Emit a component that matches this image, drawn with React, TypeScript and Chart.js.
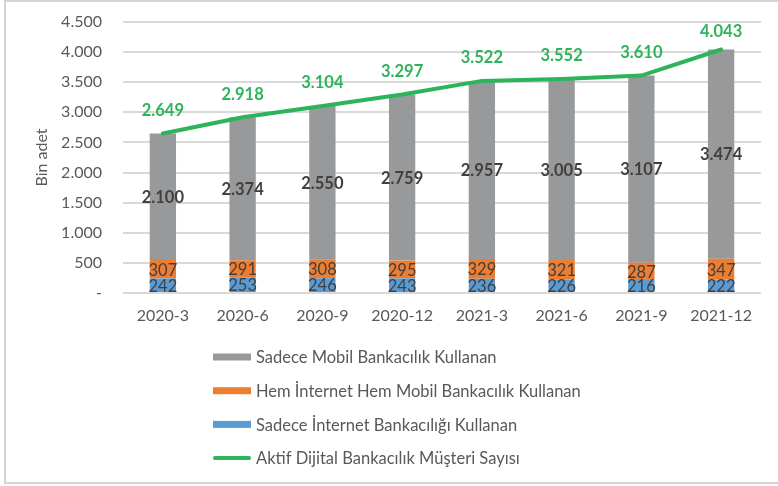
import React, { useEffect, useRef } from "react";
import { Chart, registerables } from "chart.js";

Chart.register(...registerables);

const categories = ["2020-3", "2020-6", "2020-9", "2020-12", "2021-3", "2021-6", "2021-9", "2021-12"];
const sadeceMobil = [2100, 2374, 2550, 2759, 2957, 3005, 3107, 3474];
const hemInternetHemMobil = [307, 291, 308, 295, 329, 321, 287, 347];
const sadeceInternet = [242, 253, 246, 243, 236, 226, 216, 222];
const aktifDijital = [2649, 2918, 3104, 3297, 3522, 3552, 3610, 4043];

const yMin = 0;
const yMax = 4500;
const yStep = 500;

const seriesNames = [
  "Sadece İnternet Bankacılığı Kullanan",
  "Hem İnternet Hem Mobil Bankacılık Kullanan",
  "Sadece Mobil Bankacılık Kullanan",
  "Aktif Dijital Bankacılık Müşteri Sayısı",
];

const COLORS = {
  blue: "#5b9bd5",
  orange: "#ed7d31",
  gray: "#97999b",
  green: "#2db45a",
  text: "#595959",
  label: "#404040",
  grid: "#d9d9d9",
};

const FONT = "Lato";

function fmt(n: number): string {
  if (n === 0) return "-";
  return String(n).replace(/\B(?=(\d{3})+(?!\d))/g, ".");
}

const dataLabelPlugin = {
  id: "dataLabels",
  afterDatasetsDraw(chart: any) {
    const ctx = chart.ctx;
    const styles = chart.options.plugins.dataLabels.styles;
    ctx.save();
    ctx.textAlign = "center";
    ctx.textBaseline = "middle";
    chart.data.datasets.forEach((ds: any, i: number) => {
      const meta = chart.getDatasetMeta(i);
      const st = styles[i];
      if (!st || meta.hidden) return;
      ctx.font = `${st.weight} ${st.size}px ${FONT}`;
      ctx.fillStyle = st.color;
      meta.data.forEach((el: any, j: number) => {
        const v = ds.data[j];
        let x: number, y: number;
        if (meta.type === "bar") {
          const p = el.getProps(["x", "y", "base"], true);
          x = p.x;
          y = (p.y + p.base) / 2;
        } else {
          x = el.x;
          y = Math.max(el.y - st.offset, chart.chartArea.top + 9);
        }
        ctx.fillText(fmt(v), x, y + 1);
      });
    });
    ctx.restore();
  },
};

const legendPlugin = {
  id: "vertLegend",
  afterDraw(chart: any) {
    const o = chart.options.plugins.vertLegend;
    const ctx = chart.ctx;
    ctx.save();
    ctx.textAlign = "left";
    ctx.textBaseline = "middle";
    ctx.font = `${o.size}px ${FONT}`;
    o.order.forEach((idx: number, k: number) => {
      const ds = chart.data.datasets[idx];
      const y = chart.chartArea.bottom + o.top + k * o.spacing;
      const x = o.left;
      if (ds.type === "line") {
        ctx.strokeStyle = ds.borderColor;
        ctx.lineWidth = 4;
        ctx.lineCap = "round";
        ctx.beginPath();
        ctx.moveTo(x + 2, y);
        ctx.lineTo(x + o.boxWidth - 2, y);
        ctx.stroke();
      } else {
        ctx.fillStyle = ds.backgroundColor;
        ctx.fillRect(x, y - o.boxHeight / 2, o.boxWidth, o.boxHeight);
      }
      ctx.fillStyle = COLORS.text;
      ctx.fillText(ds.label, x + o.boxWidth + 5, y + 1);
    });
    ctx.restore();
  },
};

export default function App() {
  const ref = useRef<HTMLCanvasElement | null>(null);

  useEffect(() => {
    if (!ref.current) return;
    const chart = new Chart(ref.current, {
      type: "bar",
      data: {
        labels: categories,
        datasets: [
          {
            type: "bar",
            label: seriesNames[0],
            data: sadeceInternet,
            backgroundColor: COLORS.blue,
            stack: "bars",
            order: 1,
            barPercentage: 0.33,
            categoryPercentage: 1,
          },
          {
            type: "bar",
            label: seriesNames[1],
            data: hemInternetHemMobil,
            backgroundColor: COLORS.orange,
            stack: "bars",
            order: 1,
            barPercentage: 0.33,
            categoryPercentage: 1,
          },
          {
            type: "bar",
            label: seriesNames[2],
            data: sadeceMobil,
            backgroundColor: COLORS.gray,
            stack: "bars",
            order: 1,
            barPercentage: 0.33,
            categoryPercentage: 1,
          },
          {
            type: "line",
            label: seriesNames[3],
            data: aktifDijital,
            borderColor: COLORS.green,
            backgroundColor: COLORS.green,
            borderWidth: 4,
            pointRadius: 0,
            tension: 0,
            stack: "line",
            order: 0,
            borderCapStyle: "round",
          } as any,
        ],
      },
      options: {
        animation: false,
        responsive: false,
        maintainAspectRatio: false,
        layout: { padding: { left: 0, top: 22, right: 17, bottom: 153 } },
        scales: {
          x: {
            stacked: true,
            grid: { display: false, drawTicks: false },
            border: { display: false },
            ticks: { color: COLORS.text, font: { family: FONT, size: 16 }, padding: 13, maxRotation: 0 },
            afterFit(scale: any) {
              scale.height = 40;
            },
          },
          y: {
            stacked: true,
            min: yMin,
            max: yMax,
            ticks: {
              stepSize: yStep,
              color: COLORS.text,
              font: { family: FONT, size: 16 },
              padding: 0,
              callback: (v: any) => fmt(Number(v)),
            },
            grid: {
              color: COLORS.grid,
              lineWidth: 2,
              drawTicks: true,
              tickLength: 21,
              tickColor: "rgba(0,0,0,0)",
            },
            border: { display: false },
            title: {
              display: true,
              text: "Bin adet",
              color: COLORS.text,
              font: { family: FONT, size: 16 },
              padding: { top: 32, bottom: 0 },
            },
            afterFit(scale: any) {
              scale.width = 123;
            },
          },
        },
        plugins: {
          legend: { display: false },
          tooltip: { enabled: false },
          dataLabels: {
            styles: [
              { weight: "normal", size: 16.5, color: COLORS.label, offset: 0 },
              { weight: "normal", size: 16.5, color: COLORS.label, offset: 0 },
              { weight: "bold", size: 16.5, color: COLORS.label, offset: 0 },
              { weight: "bold", size: 16.5, color: COLORS.green, offset: 24 },
            ],
          },
          vertLegend: {
            order: [2, 1, 0, 3],
            left: 213,
            top: 64,
            spacing: 33.7,
            boxWidth: 38,
            boxHeight: 7,
            size: 16.5,
          },
        } as any,
      },
      plugins: [dataLabelPlugin, legendPlugin],
    });
    return () => chart.destroy();
  }, []);

  return (
    <div style={{ position: "absolute", left: 0, top: 0, width: 778, height: 486, overflow: "hidden", background: "#fff" }}>
      <div
        style={{
          position: "absolute",
          left: 4,
          top: 0,
          width: 800,
          height: 480,
          border: "2px solid #d4d4d4",
        }}
      />
      <canvas ref={ref} width={778} height={486} style={{ position: "absolute", left: 0, top: 0, width: 778, height: 486 }} />
    </div>
  );
}
